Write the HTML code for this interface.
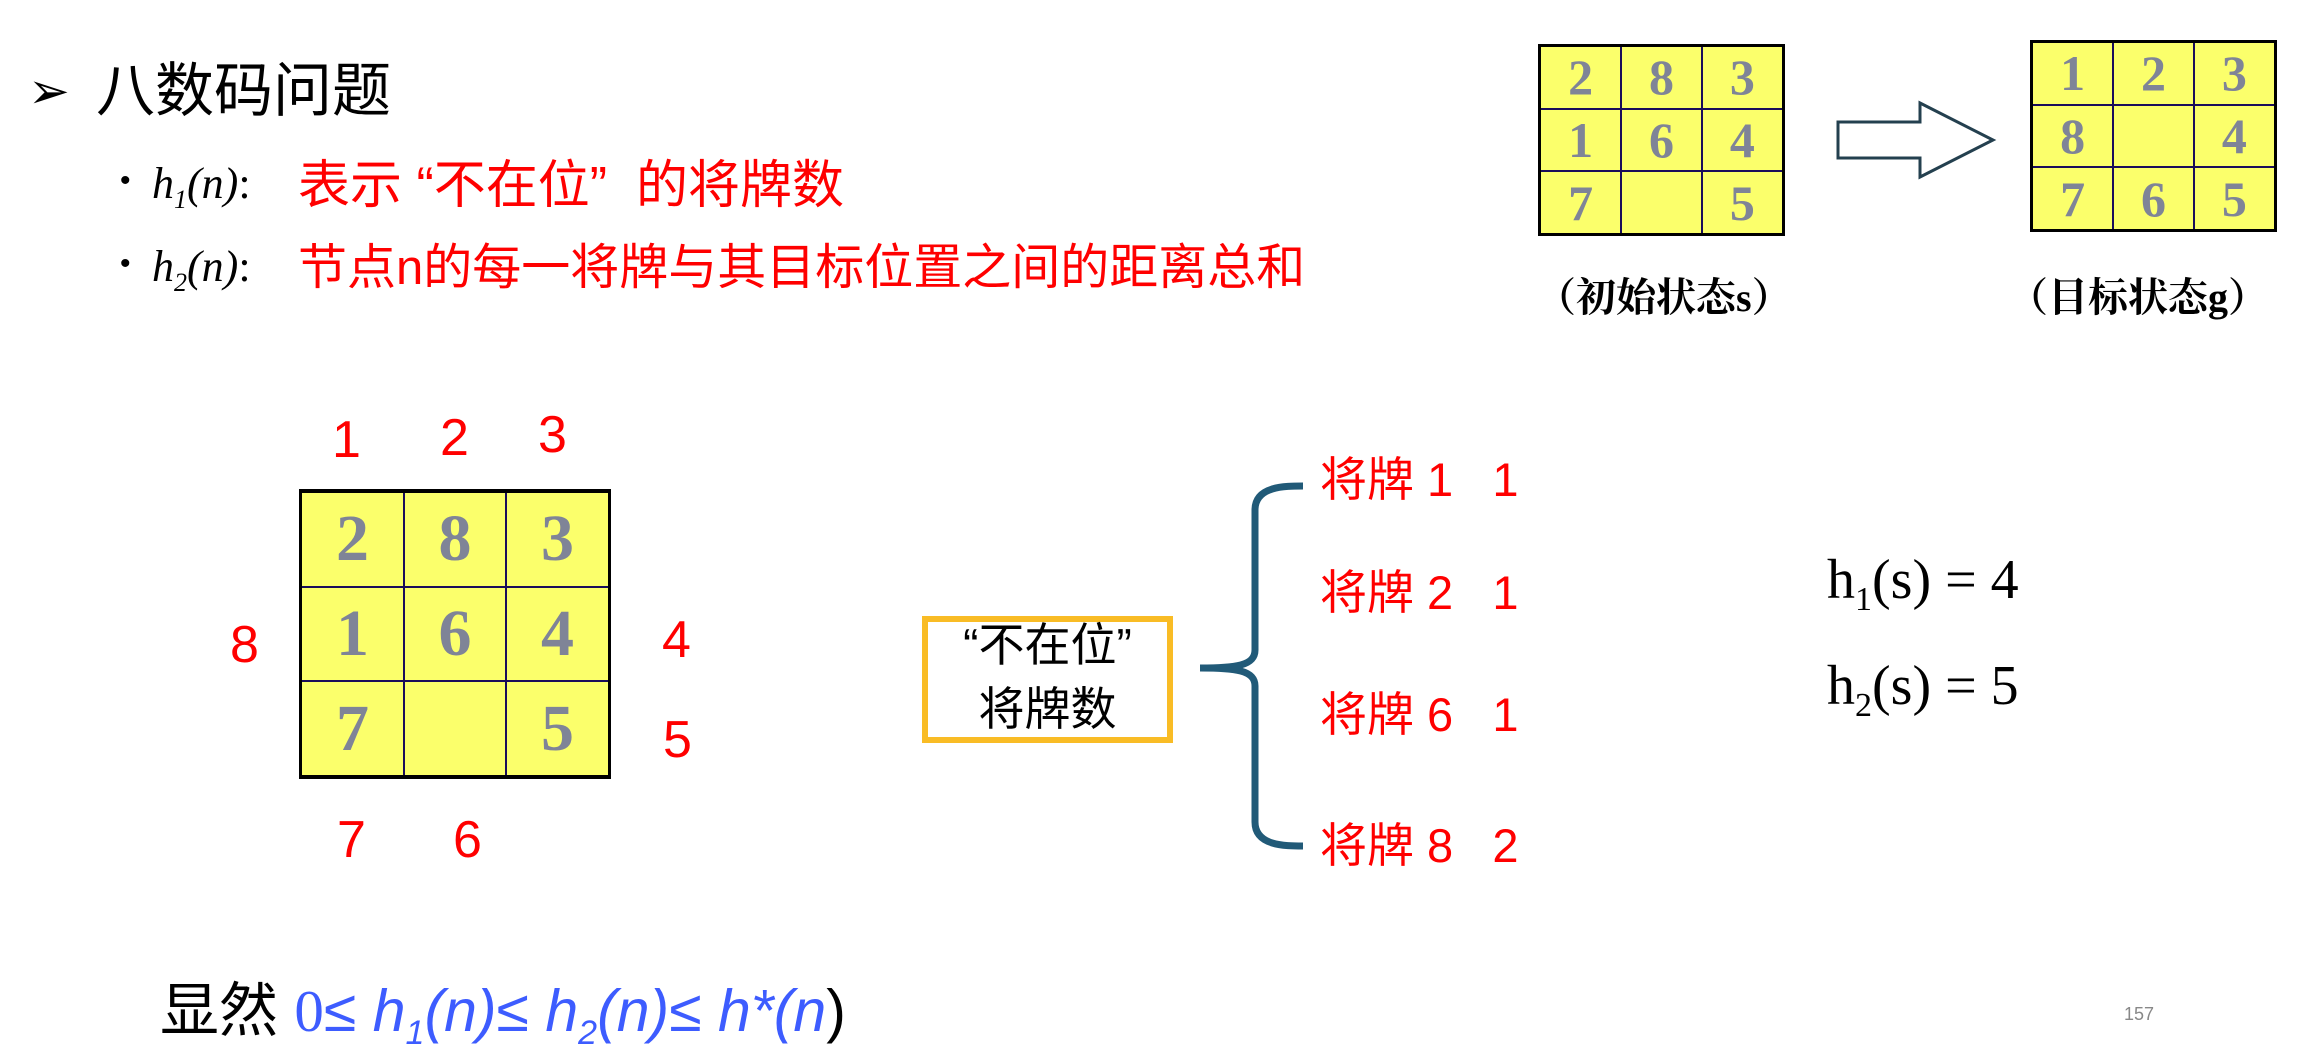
<!DOCTYPE html>
<html><head><meta charset="utf-8"><style>
body{margin:0;width:2301px;height:1063px;background:#fff;position:relative;overflow:hidden;font-family:"Liberation Sans","Noto Sans CJK SC",sans-serif}
.a{position:absolute;white-space:nowrap;line-height:1}
.r{color:#f00}
table.g{position:absolute;border-collapse:collapse;background:#fbff6b}
table.g td{border:2px solid #1a0d5a;text-align:center;font-family:"Liberation Serif",serif;font-weight:bold;color:#7f8497;padding:0}
.i{font-family:"Liberation Serif",serif;font-style:italic}
</style></head><body>
<div class="a" style="left:28px;top:66px;font-size:50px">➢</div>
<div class="a" style="left:96px;top:62px;font-size:59px">八数码问题</div>
<div class="a" style="left:120px;top:166px;font-size:30px">•</div>
<div class="a i" style="left:152px;top:162px;font-size:44px">h<sub style="font-size:26px">1</sub>(n)<span style="font-style:normal">:</span></div>
<div class="a r" style="left:298px;top:160px;font-size:52px">表示 “不在位” &nbsp;的将牌数</div>
<div class="a" style="left:120px;top:249px;font-size:30px">•</div>
<div class="a i" style="left:152px;top:245px;font-size:44px">h<sub style="font-size:26px">2</sub>(n)<span style="font-style:normal">:</span></div>
<div class="a r" style="left:298px;top:244px;font-size:49px">节点n的每一将牌与其目标位置之间的距离总和</div>

<table class="g" style="left:1538px;top:44px;width:247px;height:192px;border:3px solid #000">
<tr><td style="font-size:50px">2</td><td style="font-size:50px">8</td><td style="font-size:50px">3</td></tr>
<tr><td style="font-size:50px">1</td><td style="font-size:50px">6</td><td style="font-size:50px">4</td></tr>
<tr><td style="font-size:50px">7</td><td></td><td style="font-size:50px">5</td></tr></table>
<table class="g" style="left:2030px;top:40px;width:247px;height:192px;border:3px solid #000">
<tr><td style="font-size:50px">1</td><td style="font-size:50px">2</td><td style="font-size:50px">3</td></tr>
<tr><td style="font-size:50px">8</td><td></td><td style="font-size:50px">4</td></tr>
<tr><td style="font-size:50px">7</td><td style="font-size:50px">6</td><td style="font-size:50px">5</td></tr></table>
<svg class="a" style="left:1830px;top:95px" width="175" height="90"><polygon points="8,27 90,27 90,8 163,45 90,82 90,63 8,63" fill="#fff" stroke="#24404f" stroke-width="3"/></svg>
<div class="a" style="left:1536px;top:278px;font-size:40px;font-family:'Liberation Serif','Noto Serif CJK SC',serif;font-weight:bold">（初始状态s）</div>
<div class="a" style="left:2008px;top:278px;font-size:40px;font-family:'Liberation Serif','Noto Serif CJK SC',serif;font-weight:bold">（目标状态g）</div>

<div class="a r" style="left:332px;top:414px;font-size:52px">1</div>
<div class="a r" style="left:440px;top:412px;font-size:52px">2</div>
<div class="a r" style="left:538px;top:409px;font-size:52px">3</div>
<div class="a r" style="left:230px;top:619px;font-size:52px">8</div>
<div class="a r" style="left:662px;top:614px;font-size:52px">4</div>
<div class="a r" style="left:663px;top:714px;font-size:52px">5</div>
<div class="a r" style="left:337px;top:814px;font-size:52px">7</div>
<div class="a r" style="left:453px;top:814px;font-size:52px">6</div>
<table class="g" style="left:299px;top:489px;width:312px;height:290px;border-top:4px solid #000;border-bottom:4px solid #000;border-left:3px solid #000;border-right:3px solid #000">
<tr><td style="font-size:66px">2</td><td style="font-size:66px">8</td><td style="font-size:66px">3</td></tr>
<tr><td style="font-size:66px">1</td><td style="font-size:66px">6</td><td style="font-size:66px">4</td></tr>
<tr><td style="font-size:66px">7</td><td></td><td style="font-size:66px">5</td></tr></table>

<div class="a" style="left:922px;top:616px;width:239px;height:115px;border:6px solid #f9bc25"></div>
<div class="a" style="left:922px;top:622px;width:251px;text-align:center;font-size:46px">“不在位”</div>
<div class="a" style="left:922px;top:686px;width:251px;text-align:center;font-size:46px">将牌数</div>
<svg class="a" style="left:1195px;top:470px" width="120" height="390"><path d="M108,16 C90,16 60,16 60,40 L60,180 C60,196 40,198 5,198 C40,198 60,200 60,216 L60,352 C60,376 90,376 108,376" fill="none" stroke="#215a78" stroke-width="7"/></svg>
<div class="a r" style="left:1320px;top:456px;font-size:47px">将牌 1 &nbsp;&nbsp;1</div>
<div class="a r" style="left:1320px;top:569px;font-size:47px">将牌 2 &nbsp;&nbsp;1</div>
<div class="a r" style="left:1320px;top:691px;font-size:47px">将牌 6 &nbsp;&nbsp;1</div>
<div class="a r" style="left:1320px;top:822px;font-size:47px">将牌 8 &nbsp;&nbsp;2</div>
<div class="a" style="left:1827px;top:552px;font-size:56px;font-family:'Liberation Serif',serif">h<sub style="font-size:34px">1</sub>(s) = 4</div>
<div class="a" style="left:1827px;top:658px;font-size:56px;font-family:'Liberation Serif',serif">h<sub style="font-size:34px">2</sub>(s) = 5</div>

<div class="a" style="left:160px;top:982px;font-size:59px">显然 <span style="color:#3d5cff"><span style="font-family:'Liberation Serif',serif">0</span>≤ <i>h<sub style="font-size:34px">1</sub>(n)</i>≤ <i>h<sub style="font-size:34px">2</sub>(n)</i>≤ <i>h*(n</i></span>)</div>
<div class="a" style="left:2124px;top:1005px;font-size:18px;color:#888">157</div>
</body></html>
